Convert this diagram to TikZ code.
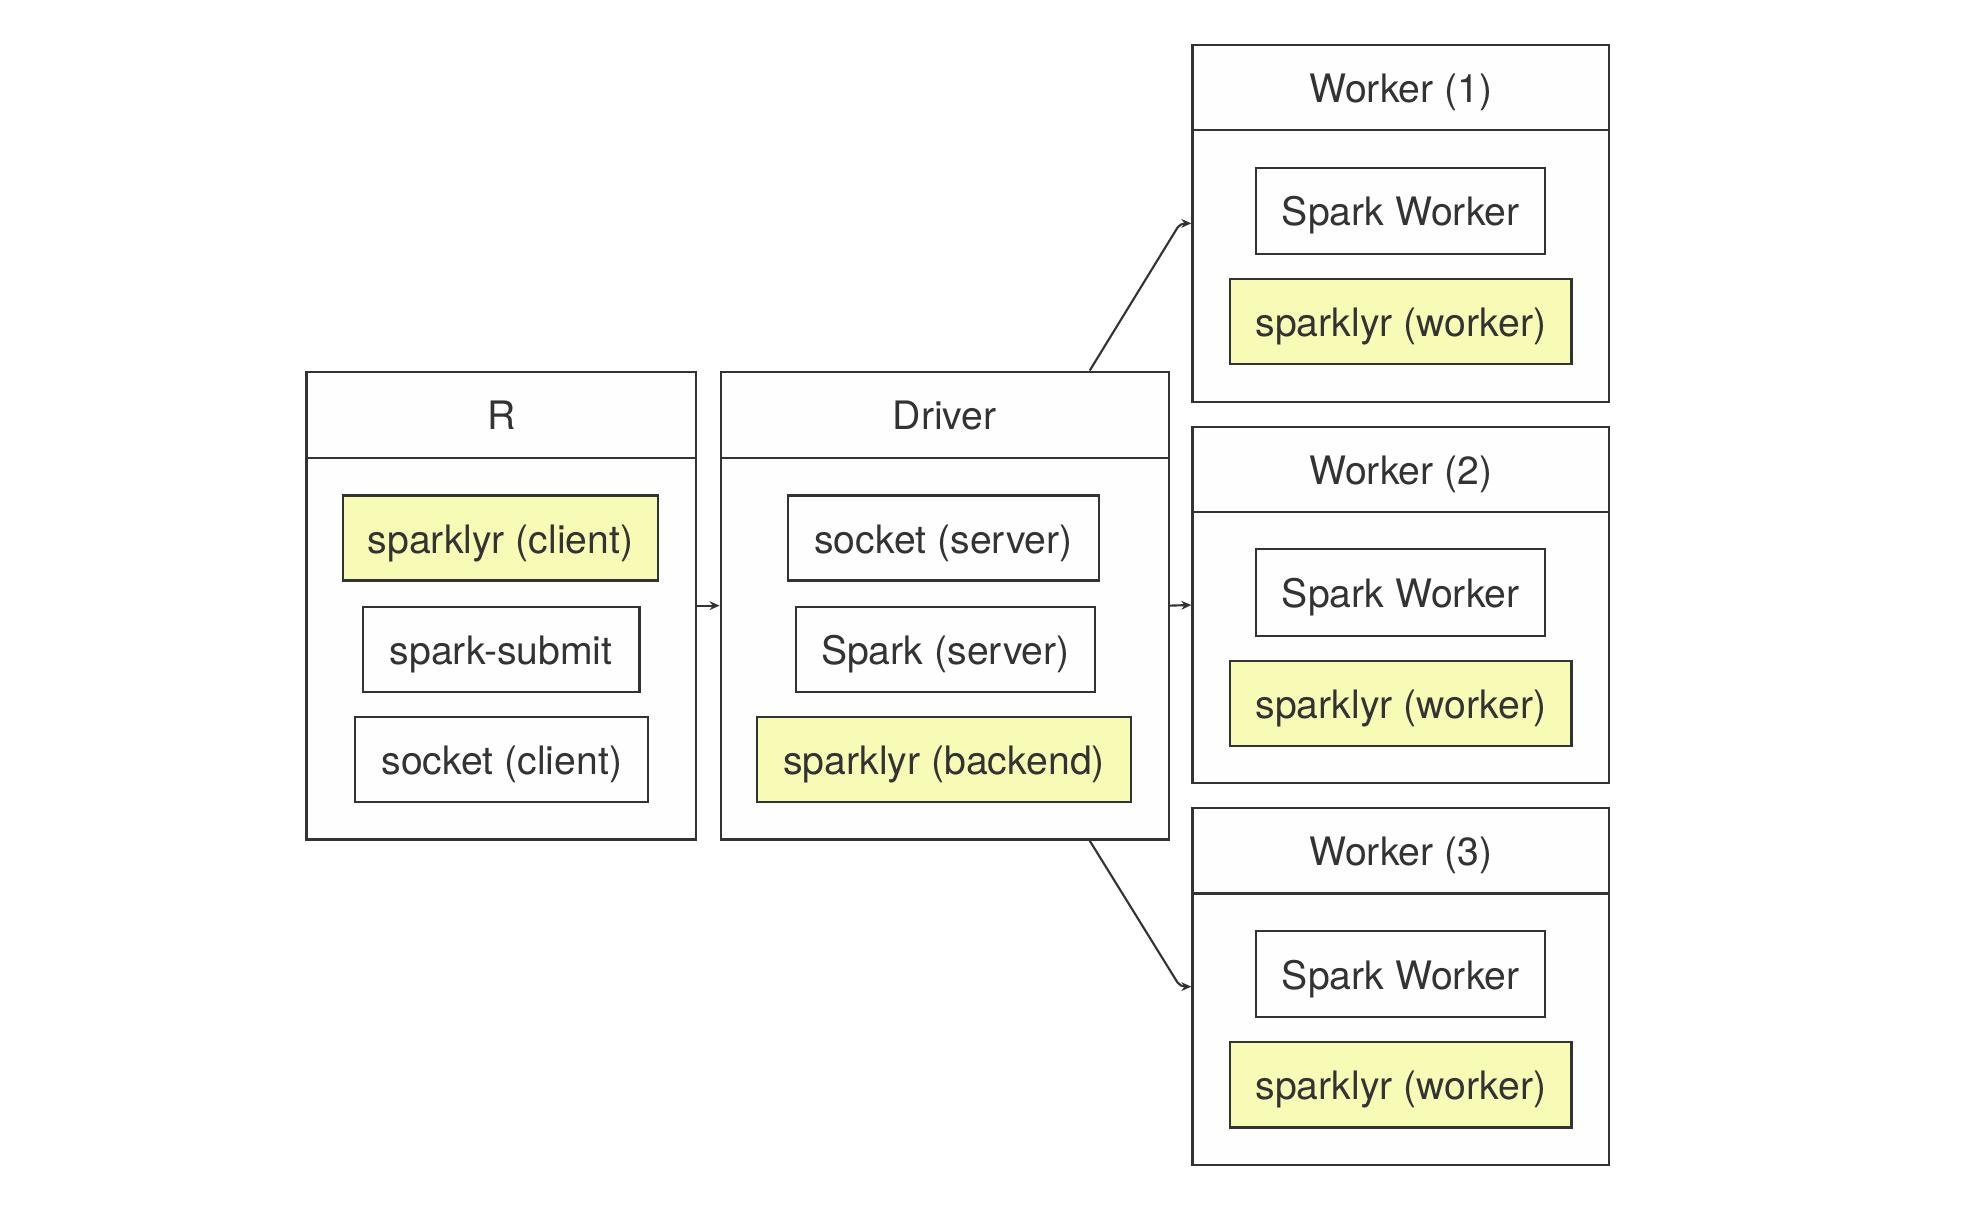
\documentclass[tikz,border=0pt]{standalone}
\usepackage{fontspec}
\setmainfont{TeX Gyre Heros}
\usetikzlibrary{arrows.meta}
\definecolor{ln}{HTML}{333333}
\definecolor{yel}{HTML}{F7FBB6}
\definecolor{bx}{HTML}{FEFEFE}
\begin{document}
\begin{tikzpicture}[x=1pt,y=-1pt,
  every node/.style={font=\fontsize{31.3}{37}\selectfont, text=ln, text height=31pt, text depth=7pt},
  frame/.style={draw=ln, line width=1.8pt, fill=bx, rectangle, inner sep=0pt},
  inbox/.style={frame, minimum height=68pt},
  yelbox/.style={inbox, fill=yel},
  conn/.style={draw=ln, line width=1.7pt, -{Stealth[length=8pt,width=7pt]}, rounded corners=4pt}]
\useasboundingbox (0,0) rectangle (1568,978.2);
\fill[white] (0,0) rectangle (1568,978.2);
% R
\node[frame, minimum width=311pt, minimum height=374pt] (R) at (400.5,484) {};
\node[frame, minimum width=311pt, minimum height=69pt] (Rt) at (400.5,331.5) {R};
\node[yelbox, minimum width=252pt] (rc) at (400,430) {sparklyr (client)};
\node[inbox, minimum width=221pt] (rs) at (400.5,519) {spark-submit};
\node[inbox, minimum width=234pt] (rk) at (401,607) {socket (client)};
% Driver
\node[frame, minimum width=358pt, minimum height=374pt] (D) at (755,484) {};
\node[frame, minimum width=358pt, minimum height=69pt] (Dt) at (755,331.5) {Driver};
\node[inbox, minimum width=248pt] (ds) at (754,430) {socket (server)};
\node[inbox, minimum width=239pt] (dp) at (755.5,519) {Spark (server)};
\node[yelbox, minimum width=299pt] (db) at (754.5,607) {sparklyr (backend)};
% Workers
\foreach \i/\c in {1/178.5,2/483.5,3/788.5}{
  \node[frame, minimum width=333pt, minimum height=285pt] (W\i) at (1119.5,\c) {};
  \node[frame, minimum width=333pt, minimum height=68pt] (W\i t) at (1119.5,\c-108.5) {Worker (\i)};
  \node[inbox, minimum width=231pt, minimum height=69pt] (W\i s) at (1119.5,\c-10) {Spark Worker};
  \node[yelbox, minimum width=273pt] (W\i w) at (1119.5,\c+78.5) {sparklyr (worker)};
}
% connectors
\draw[conn] (R.east) -- (D.west);
\draw[conn] (D.east) -- (W2.west);
\draw[conn] ([xshift=-64pt]D.north east) -- ([xshift=-9pt]W1.west) -- (W1.west);
\draw[conn] ([xshift=-64pt]D.south east) -- ([xshift=-9pt]W3.west) -- (W3.west);
\end{tikzpicture}
\end{document}
